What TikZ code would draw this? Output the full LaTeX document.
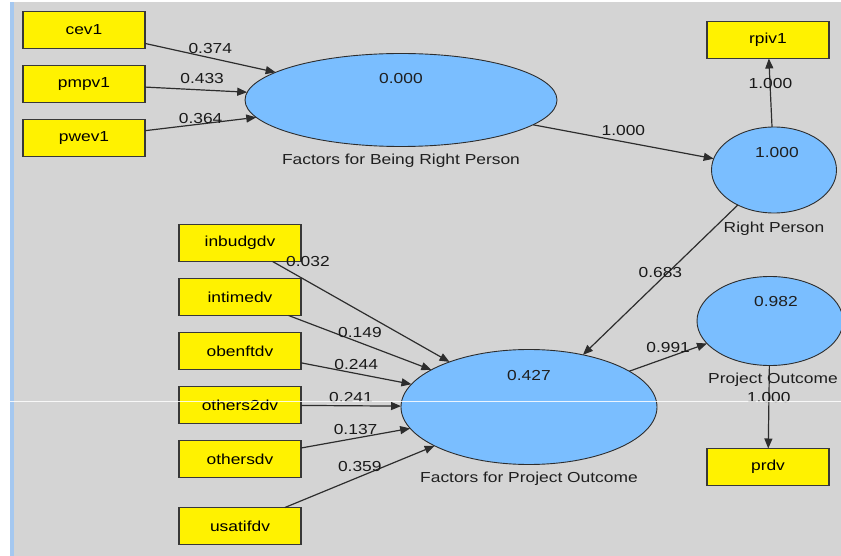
\documentclass[tikz,border=0pt]{standalone}
\usepackage{fontspec}
\setmainfont{Liberation Sans}[FakeStretch=1.2]
\usepackage{tikz}
\usetikzlibrary{positioning,shapes.geometric,arrows.meta}
\definecolor{plsgray}{RGB}{212,212,212}
\definecolor{plsblue}{RGB}{122,190,255}
\definecolor{plsstrip}{RGB}{165,200,240}
\definecolor{plsline}{RGB}{45,45,45}

\begin{document}
\begin{tikzpicture}
    [ x = 1pt, y = -1pt
    , every node/.style =
      { font = \fontsize{14.5}{17}\selectfont }
    , indicator/.style =
      { draw = black!78, line width = 1.7pt, fill = yellow
      , minimum width = 122pt, minimum height = 37pt
      , inner sep = 0pt, outer sep = 0pt }
    , construct/.style =
      { ellipse, draw = plsline, line width = .9pt, fill = plsblue
      , inner sep = 0pt, outer sep = 0pt }
    , rsq/.style =
      { inner sep = 0pt, text = black!88 }
    , caption/.style =
      { inner sep = 0pt, text = black!88 }
    , link/.style =
      { draw = plsline, line width = 1.2pt, -{Triangle[length=10pt, width=8pt]} }
    , coef/.style =
      { inner sep = 1pt, text = black!90 }
    ]
    \useasboundingbox (0,0) rectangle (841,556);
    \fill [white] (0,0) rectangle (841,556);
    \fill [plsgray] (14,2) rectangle (841,556);
    \fill [plsstrip] (10,2) rectangle (14,556);

    % indicators of Factors for Being Right Person
    \node [indicator] (cev1) at (84,30) {cev1};
    \node [indicator] (pmpv1) [below=17pt of cev1] {pmpv1};
    \node [indicator] (pwev1) [below=17pt of pmpv1] {pwev1};

    % indicators of Factors for Project Outcome
    \node [indicator] (inbudgdv) at (240,243) {inbudgdv};
    \node [indicator] (intimedv) [below=17pt of inbudgdv] {intimedv};
    \node [indicator] (obenftdv) [below=17pt of intimedv] {obenftdv};
    \node [indicator] (others2dv) [below=17pt of obenftdv] {others2dv};
    \node [indicator] (othersdv) [below=17pt of others2dv] {othersdv};
    \node [indicator] (usatifdv) [below=30pt of othersdv] {usatifdv};

    \node [indicator] (rpiv1) at (768,40) {rpiv1};
    \node [indicator] (prdv) at (768,467) {prdv};

    % constructs
    \node [construct, minimum width=312pt, minimum height=93pt] (fbrp) at (401,100) {};
    \node [rsq] (fbrpR2) [below=20pt of fbrp.north] {0.000};
    \node [caption] (fbrpName) [below=7pt of fbrp] {Factors for Being Right Person};

    \node [construct, minimum width=125pt, minimum height=86pt] (rp) at (774,170) {};
    \node [rsq] (rpR2) [below=20pt of rp.north, xshift=3pt] {1.000};
    \node [caption] (rpName) [below=9pt of rp] {Right Person};

    \node [construct, minimum width=146pt, minimum height=89pt] (po) at (770,321) {};
    \node [rsq] (poR2) [below=20pt of po.north, xshift=6pt] {0.982};
    \node [caption] (poName) [below=7pt of po, xshift=3pt] {Project Outcome};

    \node [construct, minimum width=256pt, minimum height=115pt] (fpo) at (529,407) {};
    \node [rsq] (fpoR2) [below=21pt of fpo.north] {0.427};
    \node [caption] (fpoName) [below=7pt of fpo] {Factors for Project Outcome};

    % paths
    \draw [link] (cev1) -- node [coef, above=3pt] {0.374} (fbrp);
    \draw [link] (pmpv1) -- node [coef, above=4pt, xshift=6pt] {0.433} (fbrp);
    \draw [link] (pwev1) -- node [coef, above=-1pt] {0.364} (fbrp);
    \draw [link] (fbrp) -- node [coef, above=4pt] {1.000} (rp);
    \draw [link] (rp) -- node [coef, above=3pt] {1.000} (rpiv1);
    \draw [link] (rp) -- node [coef, above=1pt] {0.683} (fpo);
    \draw [link] (fpo) -- node [coef, above=3pt] {0.991} (po);
    \draw [link] (po) -- node [coef, above=3pt] {1.000} (prdv);

    \draw [link] (inbudgdv) -- node [coef, pos=.2, above=13pt] {0.032} (fpo);
    \draw [link] (intimedv) -- node [coef, above=3pt] {0.149} (fpo);
    \draw [link] (obenftdv) -- node [coef, above=2pt] {0.244} (fpo);
    \draw [link] (others2dv) -- node [coef, above=2pt] {0.241} (fpo);
    \draw [link] (othersdv) -- node [coef, above=2pt] {0.137} (fpo);
    \draw [link] (usatifdv) -- node [coef, above=3pt] {0.359} (fpo);

    % scan seam
    \coordinate (seamL) at (0,401.5);
    \coordinate (seamR) at (841,401.5);
    \draw [white, line width=1.3pt, opacity=.85] (seamL) -- (seamR);
\end{tikzpicture}
\end{document}
